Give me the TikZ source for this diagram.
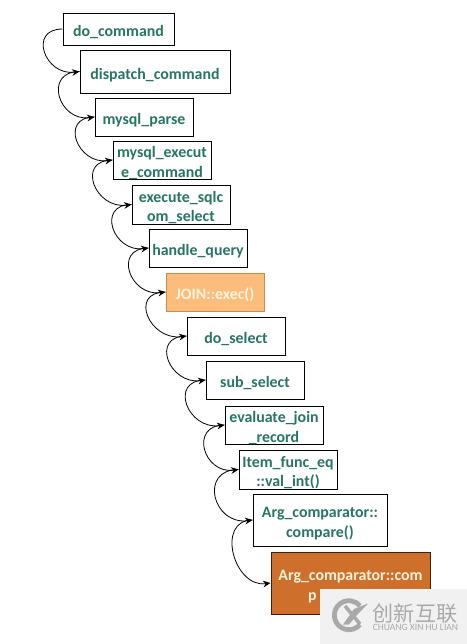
\documentclass[tikz,border=0pt]{standalone}
\usepackage{fontspec}
\setmainfont{Carlito}
\newfontfamily\cjkfont{Noto Sans CJK SC}
\usetikzlibrary{arrows.meta}
\definecolor{tealtxt}{HTML}{277564}
\definecolor{joinfill}{HTML}{FBBD7C}
\definecolor{joinline}{HTML}{C98A4A}
\definecolor{argfill}{HTML}{CF6F2C}
\definecolor{creamtxt}{HTML}{FFF3DC}
\definecolor{markfill}{HTML}{F1F1F1}
\definecolor{markink}{HTML}{A9A9A9}
\tikzset{
  x=0.75pt,y=-0.75pt,
  fnbox/.style={draw=black,line width=0.75pt,fill=white,inner sep=0pt,align=center,
    font=\fontsize{11.9pt}{14.4pt}\selectfont\bfseries,text=tealtxt},
  oneline/.style={text height=11.5pt,text depth=0pt},
  twoline/.style={text height=25.5pt,text depth=0pt},
  joinbox/.style={fnbox,fill=joinfill,draw=joinline,text=creamtxt},
  argbox/.style={fnbox,fill=argfill,draw=black!70!argfill,text=creamtxt},
  callarrow/.style={draw=black,line width=0.6pt,-{Stealth[length=5.5pt,width=5pt]}},
  markbox/.style={fill=markfill,draw=none},
}
\begin{document}
\begin{tikzpicture}
\useasboundingbox (0,0) rectangle (467,644);
\fill[white] (0,0) rectangle (467,644);
\node[fnbox,oneline,minimum width=83.25pt,minimum height=24pt] (a) at (118.5,29) {do\_command};
\node[fnbox,oneline,minimum width=112.5pt,minimum height=32.25pt] (b) at (155,71.5) {dispatch\_command};
\node[fnbox,oneline,minimum width=73.5pt,minimum height=28.5pt] (c) at (144,117) {mysql\_parse};
\node[fnbox,twoline,minimum width=73.5pt,minimum height=28.5pt] (d) at (162,160) {mysql\_execut\\e\_command};
\node[fnbox,twoline,minimum width=73.5pt,minimum height=29.25pt] (e) at (181,204.5) {execute\_sqlc\\om\_select};
\node[fnbox,oneline,minimum width=73.5pt,minimum height=28.5pt] (f) at (198,248) {handle\_query};
\node[joinbox,oneline,minimum width=73.5pt,minimum height=28.5pt] (g) at (215,292) {JOIN::exec()};
\node[fnbox,oneline,minimum width=73.5pt,minimum height=28.5pt] (h) at (236,336) {do\_select};
\node[fnbox,oneline,minimum width=73.5pt,minimum height=28.5pt] (i) at (255,380) {sub\_select};
\node[fnbox,twoline,minimum width=73.5pt,minimum height=28.5pt] (j) at (274,425) {evaluate\_join\\\_record};
\node[fnbox,twoline,minimum width=73.5pt,minimum height=29.25pt] (k) at (288,469.5) {Item\_func\_eq\\::val\_int()};
\node[fnbox,twoline,minimum width=100.5pt,minimum height=39pt] (l) at (320,520) {Arg\_comparator::\\compare()};
\node[argbox,twoline,minimum width=119.25pt,minimum height=46.5pt] (m) at (350.5,583) {Arg\_comparator::com\\p\phantom{are\_string()}};
\foreach \s/\t in {a/b,b/c,c/d,d/e,e/f,f/g,g/h,h/i,i/j,j/k,k/l}
  \draw[callarrow] (\s.west) to[out=180,in=188,looseness=1.95] (\t.west);
\draw[callarrow] (l.west) to[out=180,in=188,looseness=1.45] (m.west);
% watermark
\fill[markbox] (320,589) rectangle (467,644);
\draw[markink,line width=3.6pt] (360,624.5) arc (40:320:14.5);
\draw[markink,line width=2.6pt] (345,606) -- (360,624);
\fill[markink] (368,603.5) -- (354,609) -- (343,624.5) -- (349,624.5) -- (357,615) -- cycle;
\node[text=markink,inner sep=0pt,font=\cjkfont\fontsize{15.8pt}{16pt}\selectfont] (mk1) at (415,614) {创新互联};
\node[text=markink,inner sep=0pt,font=\fontsize{7.2pt}{7.5pt}\selectfont] (mk2) at (415.5,627) {CHUANG XIN HU LIAN};
\end{tikzpicture}
\end{document}
